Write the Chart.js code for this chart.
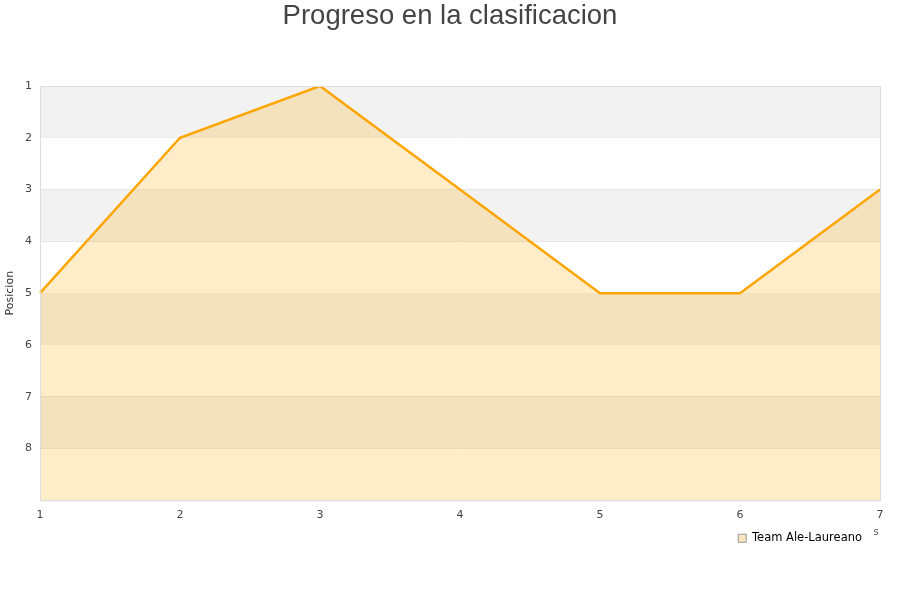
<!DOCTYPE html>
<html><head><meta charset="utf-8">
<script src="https://cdn.jsdelivr.net/npm/chart.js@4.4.0/dist/chart.umd.min.js"></script>
<style>html,body{margin:0;padding:0;background:#fff}#wrap{width:900px;height:600px}</style>
</head><body><div id="wrap"><canvas id="c" width="900" height="600"></canvas></div>
<script>
const jornadas = ['1','2','3','4','5','6','7'];
const posiciones = [5, 2, 1, 3, 5, 5, 3];
const serieNombre = 'Team Ale-Laureano';
const titulo = 'Progreso en la clasificacion';
const ejeY = 'Posicion';
const ejeXResto = 's';

const bands = {
  id: 'bands',
  afterLayout(chart) {
    if (chart.legend) { chart.legend.right -= 15; }
  },
  beforeDatasetsDraw(chart) {
    const {ctx, chartArea: a, scales: {y}} = chart;
    ctx.save();
    for (let v = 1; v < 9; v += 2) {
      const y1 = y.getPixelForValue(v), y2 = y.getPixelForValue(v + 1);
      ctx.fillStyle = '#f2f2f2';
      ctx.fillRect(a.left, y1, a.right - a.left, y2 - y1);
    }
    ctx.restore();
  },
  afterDraw(chart) {
    const {ctx, chartArea: a} = chart;
    ctx.save();
    ctx.strokeStyle = '#dddddd';
    ctx.lineWidth = 1;
    ctx.strokeRect(a.left + 0.5, a.top + 0.5, a.right - a.left, a.bottom - a.top);
    ctx.fillStyle = '#444';
    ctx.font = '27.5px "Liberation Sans", Arial, sans-serif';
    ctx.textAlign = 'center';
    ctx.textBaseline = 'middle';
    ctx.fillText(titulo, 450, 16.5);
    ctx.font = '10px "DejaVu Sans"';
    ctx.fillStyle = '#555';
    ctx.fillText(ejeXResto, a.right - 4, a.bottom + 32);
    ctx.restore();
  }
};

new Chart(document.getElementById('c'), {
  type: 'line',
  data: {
    labels: jornadas,
    datasets: [{
      label: serieNombre,
      data: posiciones,
      borderColor: '#ffa500',
      backgroundColor: 'rgba(255,165,0,0.21)',
      borderWidth: 2.5,
      fill: { value: 9 },
      pointRadius: 0,
      tension: 0
    }]
  },
  plugins: [bands],
  options: {
    responsive: false,
    animation: false,
    layout: { padding: { left: 0, right: 20, top: 86, bottom: 46 } },
    plugins: {
      title: { display: false },
      legend: {
        position: 'bottom', align: 'end',
        labels: {
          boxWidth: 8, boxHeight: 8, color: '#000',
          font: { family: 'DejaVu Sans', size: 11.5 },
          padding: 3,
          generateLabels: chart => [{
            text: serieNombre,
            fillStyle: '#fbe6c0',
            strokeStyle: '#999',
            lineWidth: 1,
            hidden: false,
            datasetIndex: 0
          }]
        }
      },
      tooltip: { enabled: false }
    },
    scales: {
      x: {
        offset: false,
        grid: { display: false, drawTicks: false },
        border: { color: '#ddd' },
        ticks: { color: '#444', font: { family: 'DejaVu Sans', size: 11 }, padding: 8, maxRotation: 0 }
      },
      y: {
        reverse: true, min: 1, max: 9,
        grid: { color: '#e0e0e0', drawTicks: false },
        border: { color: '#ddd' },
        title: { display: true, text: ejeY, color: '#333', font: { family: 'DejaVu Sans', size: 11 }, padding: { top: 4, bottom: 0 } },
        ticks: {
          stepSize: 1, color: '#444', font: { family: 'DejaVu Sans', size: 11 }, padding: 8,
          callback: v => (v >= 9 ? '' : v)
        },
        afterFit: s => { s.width = 40; }
      }
    }
  }
});
</script></body></html>
